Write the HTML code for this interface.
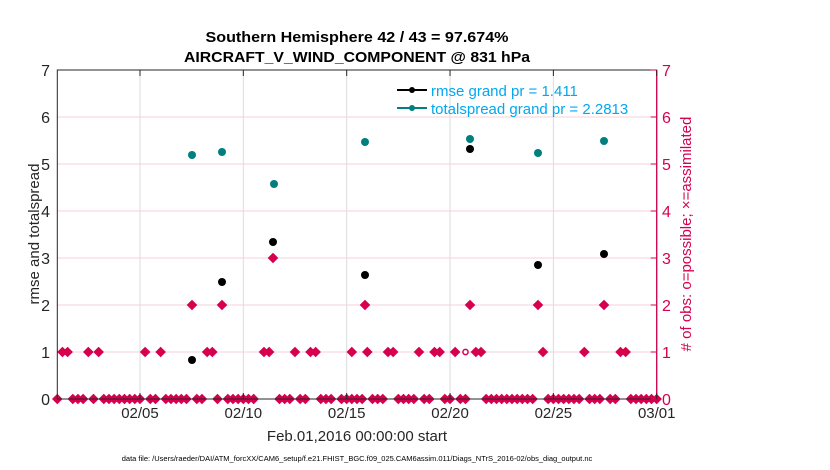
<!DOCTYPE html>
<html><head><meta charset="utf-8"><style>
html,body{margin:0;padding:0;background:#fff;}
svg{display:block;font-family:"Liberation Sans",Arial,sans-serif;}
</style></head><body>
<svg id="s" width="830" height="470" viewBox="0 0 830 470" xmlns="http://www.w3.org/2000/svg">
<rect width="830" height="470" fill="#fff"/>
<g id="grid"></g>
<g id="pts"></g>
<rect x="57.3" y="70" width="599.4" height="329" fill="none" stroke="#262626" stroke-width="1"/>
<line x1="656.7" y1="70" x2="656.7" y2="399" stroke="#d6004f" stroke-width="1.2"/>
<g id="ticks"></g>
<text x="357" y="42" font-size="15" font-weight="bold" text-anchor="middle" fill="#000" textLength="303" lengthAdjust="spacingAndGlyphs">Southern Hemisphere 42 / 43 = 97.674%</text>
<text x="357" y="62" font-size="15" font-weight="bold" text-anchor="middle" fill="#000" textLength="346" lengthAdjust="spacingAndGlyphs">AIRCRAFT_V_WIND_COMPONENT @ 831 hPa</text>
<text transform="translate(39,234) rotate(-90)" font-size="15" text-anchor="middle" fill="#262626">rmse and totalspread</text>
<text transform="translate(691,234) rotate(-90)" font-size="15" text-anchor="middle" fill="#d6004f"># of obs: o=possible; ×=assimilated</text>
<text x="357" y="441" font-size="15" text-anchor="middle" fill="#262626">Feb.01,2016 00:00:00 start</text>
<text x="357" y="461" font-size="7.5" text-anchor="middle" fill="#000">data file: /Users/raeder/DAI/ATM_forcXX/CAM6_setup/f.e21.FHIST_BGC.f09_025.CAM6assim.011/Diags_NTrS_2016-02/obs_diag_output.nc</text>
<line x1="397" y1="90" x2="427" y2="90" stroke="#000" stroke-width="2"/><circle cx="412" cy="90" r="3" fill="#000"/>
<text x="431" y="96" font-size="15" fill="#00a8f0">rmse grand pr = 1.411</text>
<line x1="397" y1="108" x2="427" y2="108" stroke="#007f7f" stroke-width="2"/><circle cx="412" cy="108" r="3" fill="#007f7f"/>
<text x="431" y="114" font-size="15" fill="#00a8f0">totalspread grand pr = 2.2813</text>
</svg>
<script>
var NS="http://www.w3.org/2000/svg";
function el(p,t,a,txt){var e=document.createElementNS(NS,t);for(var k in a)e.setAttribute(k,a[k]);if(txt!=null)e.textContent=txt;document.getElementById(p).appendChild(e);return e;}
var X0=57.3,DX=5.167,Y0=399,DY=47;
function bx(b){return X0+b*DX;}function yy(v){return Y0-v*DY;}
var dates=["02/05","02/10","02/15","02/20","02/25","03/01"];
for(var i=0;i<6;i++){var x=X0+(4+5*i)*20.67;
 if(i<5)el("grid","line",{x1:x,y1:70,x2:x,y2:399,stroke:"#dcdcdc","stroke-width":1});
 el("ticks","line",{x1:x,y1:399,x2:x,y2:393,stroke:"#262626"});
 el("ticks","line",{x1:x,y1:70,x2:x,y2:76,stroke:"#262626"});
 el("ticks","text",{x:x,y:418,"font-size":15,"text-anchor":"middle",fill:"#262626"},dates[i]);}
for(var v=0;v<=7;v++){var y=yy(v);
 if(v>0&&v<7)el("grid","line",{x1:X0,y1:y,x2:656.7,y2:y,stroke:"#f7d0dc","stroke-width":1});
 el("ticks","text",{x:50,y:y+6,"font-size":16,"text-anchor":"end",fill:"#262626"},v);
 el("ticks","line",{x1:656.7,y1:y,x2:650.7,y2:y,stroke:"#d6004f"});
 el("ticks","text",{x:662,y:y+6,"font-size":16,fill:"#d6004f"},v);}
function dia(x,y){el("pts","polygon",{points:(x-4.6)+","+y+" "+x+","+(y-4.6)+" "+(x+4.6)+","+y+" "+x+","+(y+4.6),fill:"#d6004f",stroke:"#d6004f","stroke-width":1});}
var r0=[0,3,4,5,7,9,10,11,12,13,14,15,16,18,19,21,22,23,24,25,27,28,31,33,34,35,36,37,38,43,44,45,47,48,51,52,53,55,56,57,58,59,61,62,63,66,67,68,69,71,72,75,76,78,79,83,84,85,86,87,88,89,90,91,92,95,96,97,98,99,100,101,103,104,105,107,108,111,112,113,114,115,116];
var r1=[1,2,6,8,17,20,29,30,40,41,46,49,50,57,60,64,65,70,73,74,77,81,82,94,102,109,110];
r0.forEach(function(b){dia(bx(b),yy(0));});
r1.forEach(function(b){dia(bx(b),yy(1));});
el("pts","circle",{cx:bx(79),cy:yy(1),r:2.6,fill:"#fff",stroke:"#d6004f","stroke-width":1.5});
[192,222,365,470,538,604].forEach(function(x){dia(x,yy(2));});
dia(273,yy(3));
var blk=[[192,360],[222,282],[273,242],[365,275],[470,149],[538,265],[604,254]];
var tl=[[192,155],[222,152],[274,184],[365,142],[470,139],[538,153],[604,141]];
tl.forEach(function(p){el("pts","circle",{cx:p[0],cy:p[1],r:4,fill:"#007f7f"});});
blk.forEach(function(p){el("pts","circle",{cx:p[0],cy:p[1],r:4,fill:"#000"});});
</script>
</body></html>
